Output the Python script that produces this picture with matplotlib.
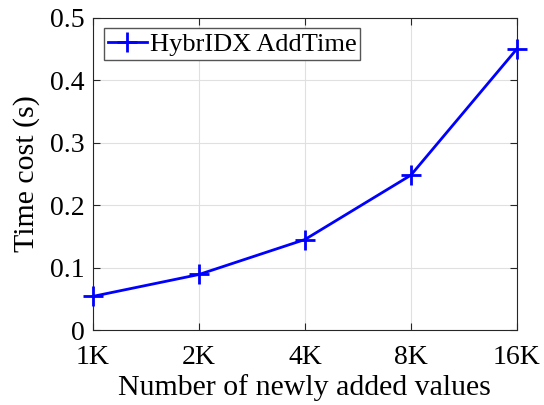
import numpy as np
import matplotlib
matplotlib.use('Agg')
import matplotlib.pyplot as plt

# data
x_labels = ['1K', '2K', '4K', '8K', '16K']
add_time = [0.054, 0.089, 0.145, 0.248, 0.450]
series_name = 'HybrIDX AddTime'

plt.rcParams['font.family'] = ['Liberation Serif', 'DejaVu Serif']

fig = plt.figure(figsize=(5.44, 4.05), dpi=100)
ax = fig.add_axes([0.171, 0.185, 0.779, 0.771])

x = np.arange(1, len(x_labels) + 1)
ax.plot(x, add_time, color='#0000ff', linewidth=2, marker='+', markersize=15,
        markeredgewidth=2, label=series_name, clip_on=False, zorder=5)

ax.set_xlim(1, 5)
ax.set_ylim(0, 0.5)
ax.set_xticks(x)
ax.set_xticklabels(x_labels)
ax.set_yticks(np.arange(0, 0.51, 0.1))
ax.set_yticklabels(['0', '0.1', '0.2', '0.3', '0.4', '0.5'])

ax.grid(True, color='#e0e0e0', linewidth=0.8)
ax.set_axisbelow(True)
for side in ax.spines.values():
    side.set_color('#262626')
    side.set_linewidth(0.8)
ax.tick_params(direction='in', length=5, width=0.8, colors='#262626',
               labelsize=20, top=True, right=True, labelcolor='black')
ax.tick_params(axis='x', pad=11)
ax.tick_params(axis='y', pad=6)

ax.set_xlabel('Number of newly added values', fontsize=21.5, labelpad=3)
ax.set_ylabel('Time cost (s)', fontsize=21.5, labelpad=7)

leg = ax.legend(loc='upper left', fontsize=19, fancybox=False, framealpha=1,
                edgecolor='#555555', handlelength=1.5, handletextpad=0.1,
                borderpad=0.15, borderaxespad=0.4)
leg.get_frame().set_linewidth(1.0)

fig.savefig('out.png', dpi=100)
